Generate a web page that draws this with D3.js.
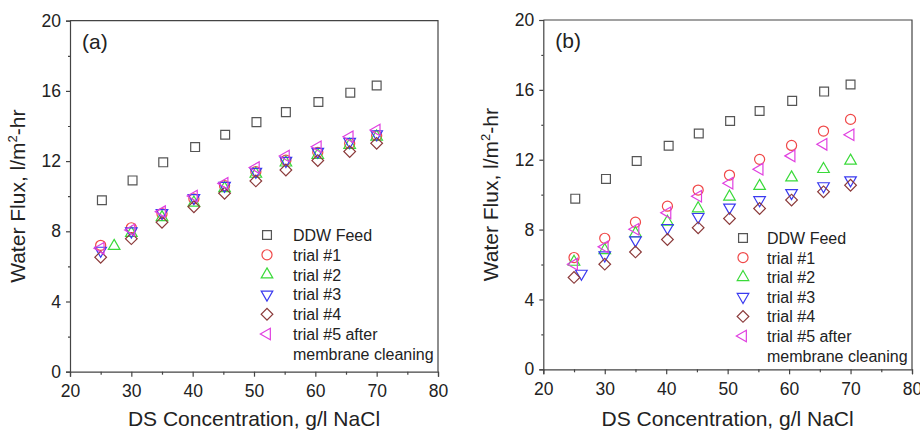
<!DOCTYPE html>
<html>
<head>
<meta charset="utf-8">
<script src="https://cdn.jsdelivr.net/npm/d3@7"></script>
<style>
  html, body { margin: 0; padding: 0; background: #fff; }
  svg { display: block; font-family: "Liberation Sans", Arial, sans-serif; }
</style>
</head>
<body>
<svg id="chart" width="920" height="431"></svg>
<script>
// DS concentration (g/l NaCl) for each measurement
const ddwConc = [25.2, 30.2, 35.2, 40.4, 45.3, 50.4, 55.2, 60.5, 65.7, 70];
const conc = [25, 30, 35, 40.2, 45.2, 50.3, 55.2, 60.4, 65.6, 70];
const concA2 = [27.2, 30, 35, 40.2, 45.2, 50.3, 55.2, 60.4, 65.6, 70];
const concB3 = [26.2, 30, 35, 40.2, 45.2, 50.3, 55.2, 60.4, 65.6, 70];

// Water flux (l/m2-hr)
const ddwFeed = [9.77, 10.9, 11.93, 12.8, 13.5, 14.22, 14.79, 15.37, 15.9, 16.31];

// Panel (a)
const aTrial1 = [7.2, 8.2, 9.0, 9.85, 10.6, 11.4, 12.05, 12.5, 13.0, 13.45];
const aTrial2 = [7.16, 7.9, 8.8, 9.63, 10.45, 11.27, 11.91, 12.35, 12.92, 13.39];
const aTrial3 = [6.9, 8.0, 9.05, 9.9, 10.6, 11.4, 12.02, 12.54, 13.1, 13.54];
const aTrial4 = [6.52, 7.58, 8.51, 9.4, 10.17, 10.87, 11.49, 12.03, 12.54, 13.01];
const aTrial5 = [7.03, 8.07, 9.12, 10.01, 10.73, 11.63, 12.29, 12.82, 13.39, 13.77];

// Panel (b)
const bTrial1 = [6.4, 7.5, 8.42, 9.34, 10.26, 11.12, 12.02, 12.82, 13.64, 14.31];
const bTrial2 = [6.15, 6.82, 7.78, 8.44, 9.21, 9.88, 10.49, 10.98, 11.46, 11.94];
const bTrial3 = [5.48, 6.53, 7.39, 8.1, 8.73, 9.27, 9.69, 10.1, 10.49, 10.83];
const bTrial4 = [5.26, 6.02, 6.72, 7.43, 8.1, 8.63, 9.21, 9.69, 10.16, 10.54];
const bTrial5 = [6.02, 7.01, 8.02, 8.96, 9.91, 10.65, 11.46, 12.22, 12.88, 13.43];

const legendLabels = ["DDW Feed", "trial #1", "trial #2", "trial #3", "trial #4", "trial #5 after"];
const legendExtra = "membrane cleaning";
const xTicks = [20, 30, 40, 50, 60, 70, 80];
const xMinor = [25, 35, 45, 55, 65, 75];
const yTicks = [0, 4, 8, 12, 16, 20];
const yMinor = [2, 6, 10, 14, 18];

const colors = ["#555555", "#f04848", "#3ada3a", "#3a3af0", "#8b3a3a", "#e040e0"];

// marker shapes: square, circle, up/down/left triangle, diamond
const shapes = [
  { type: d3.symbolSquare, size: 78, rot: 0 },
  { type: d3.symbolCircle, size: 80, rot: 0 },
  { type: d3.symbolTriangle, size: 58, rot: 0 },
  { type: d3.symbolTriangle, size: 58, rot: 180 },
  { type: d3.symbolSquare, size: 68, rot: 45 },
  { type: d3.symbolTriangle, size: 58, rot: -90 }
];

const panels = [
  {
    label: "(a)",
    box: { left: 70, right: 438, top: 20.7, bottom: 371.7 },
    series: [
      { x: ddwConc, y: ddwFeed },
      { x: conc, y: aTrial1 },
      { x: concA2, y: aTrial2 },
      { x: conc, y: aTrial3 },
      { x: conc, y: aTrial4 },
      { x: conc, y: aTrial5 }
    ],
    legend: { x: 267, text: 293, y0: 235, step: 19.8 }
  },
  {
    label: "(b)",
    box: { left: 543.3, right: 912, top: 20, bottom: 369.3 },
    series: [
      { x: ddwConc, y: ddwFeed },
      { x: conc, y: bTrial1 },
      { x: conc, y: bTrial2 },
      { x: concB3, y: bTrial3 },
      { x: conc, y: bTrial4 },
      { x: conc, y: bTrial5 }
    ],
    legend: { x: 743, text: 767, y0: 238, step: 19.6 }
  }
];

const svg = d3.select("#chart");
const axisColor = "#444";

function drawSymbol(g, cx, cy, i) {
  const s = shapes[i];
  g.append("path")
    .attr("d", d3.symbol().type(s.type).size(s.size)())
    .attr("transform", `translate(${cx},${cy}) rotate(${s.rot})`)
    .attr("fill", "none")
    .attr("stroke", colors[i])
    .attr("stroke-width", 1.2);
}

panels.forEach(p => {
  const b = p.box;
  const x = d3.scaleLinear().domain([20, 80]).range([b.left, b.right]);
  const y = d3.scaleLinear().domain([0, 20]).range([b.bottom, b.top]);
  const g = svg.append("g");

  // frame: top and right edges
  g.append("path")
    .attr("d", `M${b.left},${b.top}H${b.right}V${b.bottom}`)
    .attr("fill", "none").attr("stroke", axisColor).attr("stroke-width", 1.2);

  // x axis
  const xAxis = g.append("g").attr("transform", `translate(0,${b.bottom})`)
    .call(d3.axisBottom(x).tickValues(xTicks).tickSize(5).tickPadding(8).tickFormat(d3.format("d")));
  g.append("g").attr("transform", `translate(0,${b.bottom})`)
    .call(d3.axisBottom(x).tickValues(xMinor).tickSize(3).tickFormat(""))
    .call(a => a.select(".domain").remove());

  // y axis
  const yAxis = g.append("g").attr("transform", `translate(${b.left},0)`)
    .call(d3.axisLeft(y).tickValues(yTicks).tickSize(4).tickPadding(5).tickFormat(d3.format("d")));
  g.append("g").attr("transform", `translate(${b.left},0)`)
    .call(d3.axisLeft(y).tickValues(yMinor).tickSize(2).tickFormat(""))
    .call(a => a.select(".domain").remove());

  g.selectAll(".domain, .tick line").attr("stroke", axisColor).attr("stroke-width", 1.2);
  g.selectAll(".tick text").attr("fill", "#222").attr("font-size", 17.5)
    .attr("font-family", "'Liberation Sans', Arial, sans-serif");

  // axis titles
  g.append("text")
    .attr("x", (b.left + b.right) / 2).attr("y", 426)
    .attr("text-anchor", "middle").attr("font-size", 21).attr("fill", "#222")
    .text("DS Concentration, g/l NaCl");

  const yt = g.append("text")
    .attr("transform", `translate(${b.left - 45},${(b.top + b.bottom) / 2}) rotate(-90)`)
    .attr("text-anchor", "middle").attr("font-size", 21).attr("fill", "#222");
  yt.append("tspan").text("Water Flux, l/m");
  yt.append("tspan").attr("font-size", 13).attr("dy", -8).text("2");
  yt.append("tspan").attr("dy", 8).text("-hr");

  // panel label
  g.append("text")
    .attr("x", b.left + 12).attr("y", b.top + 28)
    .attr("font-size", 21).attr("fill", "#222").text(p.label);

  // data markers
  p.series.forEach((s, i) => {
    s.y.forEach((v, k) => drawSymbol(g, x(s.x[k]), y(v), i));
  });

  // legend
  const L = p.legend;
  legendLabels.forEach((t, i) => {
    const ly = L.y0 + i * L.step;
    drawSymbol(g, L.x, ly, i);
    g.append("text").attr("x", L.text).attr("y", ly + 6)
      .attr("font-size", 16).attr("fill", "#222").text(t);
  });
  g.append("text").attr("x", L.text).attr("y", L.y0 + 6 * L.step + 6)
    .attr("font-size", 16).attr("fill", "#222").text(legendExtra);
});
</script>
</body>
</html>
